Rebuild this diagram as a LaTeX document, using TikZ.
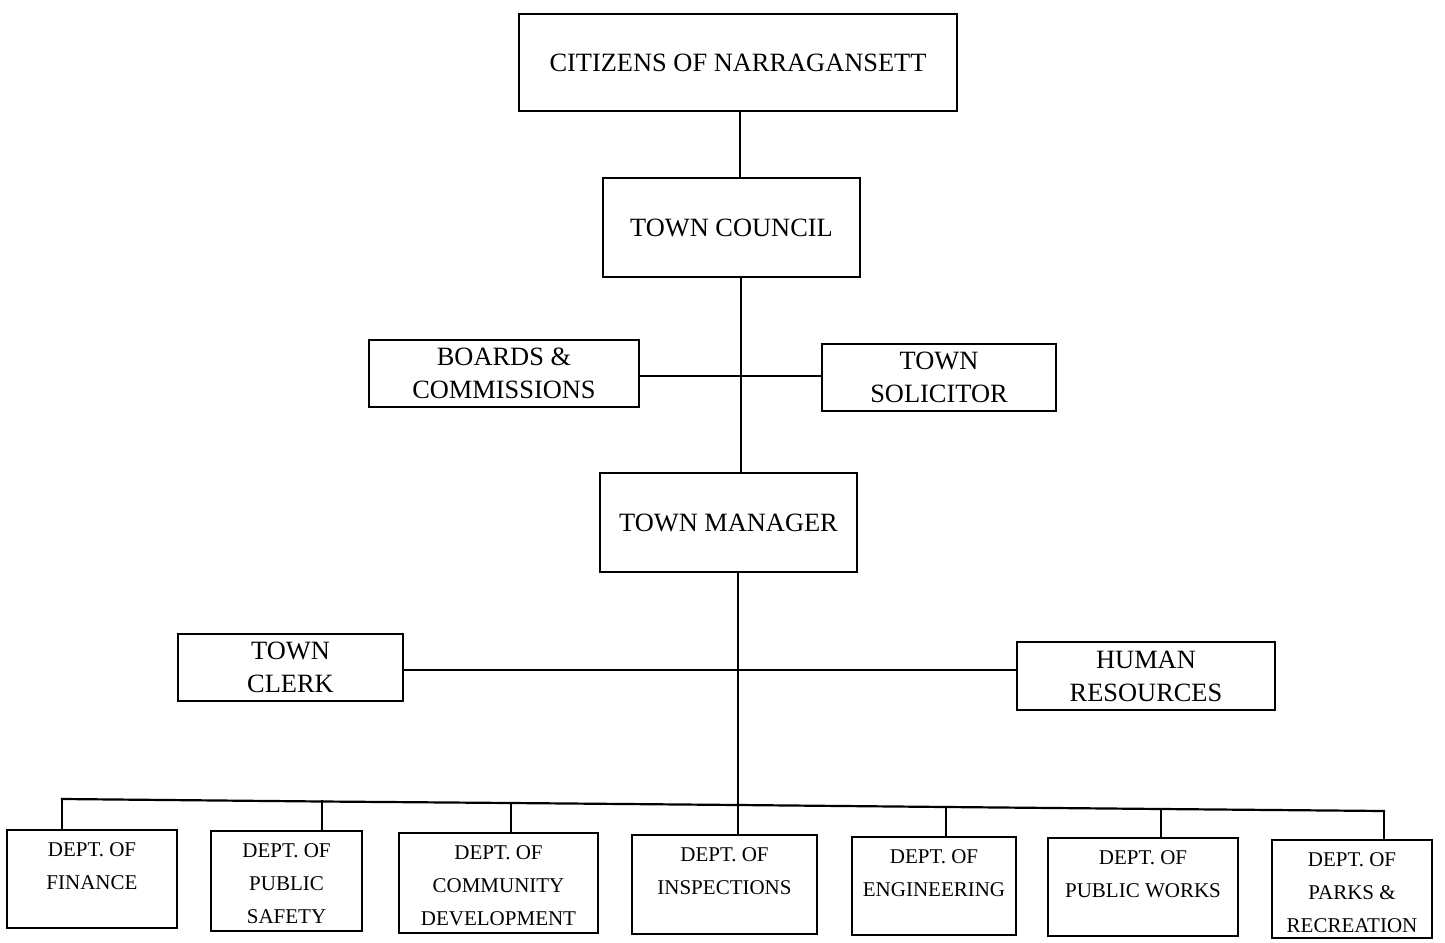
\documentclass[tikz,border=0pt]{standalone}
\usepackage{fontspec}
\setmainfont{Liberation Serif}
\begin{document}
\begin{tikzpicture}[x=1pt,y=-1pt,
  box/.style={draw=black,line width=2.2pt,fill=white,inner sep=0pt,align=center},
  big/.style={font=\fontsize{26.4}{33}\selectfont},
  small/.style={font=\fontsize{21}{33}\selectfont,inner sep=0pt,align=center,anchor=north},
  wire/.style={line width=2.2pt,line cap=rect}]
\useasboundingbox (0,0) rectangle (1445,942);
% upper boxes
\node[box,big,minimum width=438pt,minimum height=97pt] (cit) at (738,62.5) {CITIZENS OF NARRAGANSETT};
\node[box,big,minimum width=257pt,minimum height=99pt] (council) at (731.5,227.5) {TOWN COUNCIL};
\node[box,big,minimum width=270pt,minimum height=67pt] (bc) at (504,373.5) {BOARDS \&\\COMMISSIONS};
\node[box,big,minimum width=234pt,minimum height=67pt] (ts) at (939,377.5) {TOWN\\SOLICITOR};
\node[box,big,minimum width=257pt,minimum height=99pt] (mgr) at (728.5,522.5) {TOWN MANAGER};
\node[box,big,minimum width=225pt,minimum height=67pt] (clerk) at (290.5,667.5) {TOWN\\CLERK};
\node[box,big,minimum width=258pt,minimum height=68pt] (hr) at (1146,676) {HUMAN\\RESOURCES};
% bottom boxes
\node[box,minimum width=170pt,minimum height=98pt] (fin) at (92,879) {};
\node[box,minimum width=151pt,minimum height=100pt] (ps) at (286.5,881) {};
\node[box,minimum width=199pt,minimum height=100pt] (cd) at (498.5,883) {};
\node[box,minimum width=185pt,minimum height=99pt] (insp) at (724.5,884.5) {};
\node[box,minimum width=164pt,minimum height=98pt] (eng) at (934,886) {};
\node[box,minimum width=190pt,minimum height=98pt] (pw) at (1143,887) {};
\node[box,minimum width=160pt,minimum height=98pt] (pr) at (1352,889) {};
\node[small] (finT) at ([yshift=-13pt]fin.north) {DEPT. OF\\FINANCE};
\node[small] (psT) at ([yshift=-13pt]ps.north) {DEPT. OF\\PUBLIC\\SAFETY};
\node[small] (cdT) at ([yshift=-13pt]cd.north) {DEPT. OF\\COMMUNITY\\DEVELOPMENT};
\node[small] (inspT) at ([yshift=-13pt]insp.north) {DEPT. OF\\INSPECTIONS};
\node[small] (engT) at ([yshift=-13pt]eng.north) {DEPT. OF\\ENGINEERING};
\node[small] (pwT) at ([yshift=-13pt]pw.north) {DEPT. OF\\PUBLIC WORKS};
\node[small] (prT) at ([yshift=-13pt]pr.north) {DEPT. OF\\PARKS \&\\RECREATION};
% connector coordinates
\coordinate (v1) at (740,0);
\coordinate (v2) at (741,0);
\coordinate (v3) at (738,0);
\coordinate (h1) at (0,376);
\coordinate (h2) at (0,670);
\coordinate (d1) at (62,799);
\coordinate (d2) at (322,801.5);
\coordinate (d3) at (511,803);
\coordinate (d4) at (738,805);
\coordinate (d5) at (946,807);
\coordinate (d6) at (1161,809);
\coordinate (d7) at (1384,811);
% connectors
\draw[wire] (v1 |- cit.south) -- (v1 |- council.north);
\draw[wire] (v2 |- council.south) -- (v2 |- mgr.north);
\draw[wire] (bc.east |- h1) -- (ts.west |- h1);
\draw[wire] (clerk.east |- h2) -- (hr.west |- h2);
\draw[wire] (v3 |- mgr.south) -- (v3 |- insp.north);
\draw[wire] (d1) -- (d2) -- (d3) -- (d4) -- (d5) -- (d6) -- (d7);
\draw[wire] (d1) -- (d1 |- fin.north);
\draw[wire] (d2) -- (d2 |- ps.north);
\draw[wire] (d3) -- (d3 |- cd.north);
\draw[wire] (d5) -- (d5 |- eng.north);
\draw[wire] (d6) -- (d6 |- pw.north);
\draw[wire] (d7) -- (d7 |- pr.north);
\end{tikzpicture}
\end{document}
